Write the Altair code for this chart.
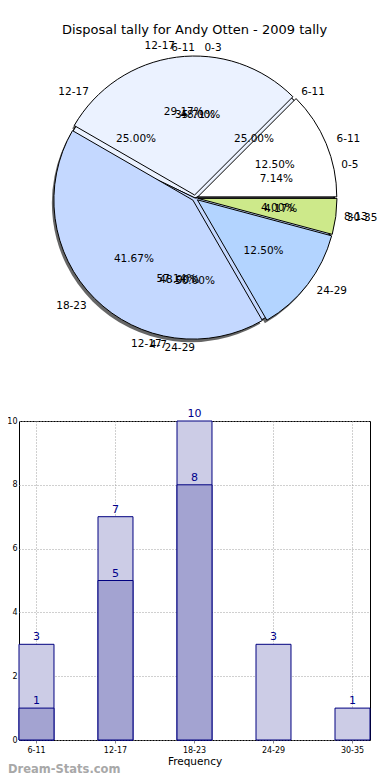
import math
import pandas as pd
import altair as alt

# ---------------- data ----------------
bar_categories = ["6-11", "12-17", "18-23", "24-29", "30-35"]
tally_all = [3, 7, 10, 3, 1]
dark_categories = ["6-11", "12-17", "18-23"]
tally_dark = [1, 5, 8]

pieA_labels = ["6-11", "12-17", "18-23", "24-29", "30-35"]
pieA_values = [3, 7, 10, 3, 1]
pieB_labels = ["0-5", "6-11", "12-17"]
pieB_values = [1, 5, 8]
pieC_labels = ["6-11", "12-17", "24-29"]
pieC_values = [1, 1, 2]
pieD_labels = ["0-3", "4-7", "8-13"]
pieD_values = [12, 12, 1]

title_text = ["Disposal tally for Andy Otten - 2009 tally"]
watermark_text = ["Dream-Stats.com"]

# ---------------- layout ----------------
PW, PH = 351, 319          # bar plot area
CX, CY = 176, -223         # pie centre relative to the bar plot origin
R = 139
FONT = "DejaVu Sans"
palette = ["#ffffff", "#ebf2ff", "#c4d8ff", "#b3d4ff", "#cde98a"]
THETA = alt.Scale(domain=[0, 1], range=[2.5 * math.pi, 0.5 * math.pi])


def pie_base(labels, values, d, dx=0, dy=0):
    df = pd.DataFrame({"label": labels, "value": values, "idx": list(range(len(labels)))})
    return (
        alt.Chart(df)
        .transform_joinaggregate(total="sum(value)")
        .transform_window(cum="sum(value)", sort=[alt.SortField("idx", order="ascending")])
        .transform_calculate(start="(datum.cum - datum.value) / datum.total")
        .transform_calculate(end="datum.cum / datum.total")
        .transform_calculate(mid="(datum.start + datum.end) / 2")
        .transform_calculate(ang="2 * PI * datum.mid")
        .transform_calculate(ex=f"{CX + dx} + {d} * cos(datum.ang)")
        .transform_calculate(ey=f"{CY + dy} - {d} * sin(datum.ang)")
        .transform_calculate(pct="format(datum.value / datum.total, '.2%')")
        .transform_calculate(side="cos(datum.ang) > 1e-6 ? 'L' : 'R'")
    )


def pos():
    return dict(x=alt.X("ex:Q", scale=None), y=alt.Y("ey:Q", scale=None))


def arcs(base, **kw):
    return base.mark_arc(stroke="black", strokeWidth=1, **kw).encode(
        theta=alt.Theta("start:Q", scale=THETA),
        theta2="end:Q",
        radius=alt.value(R),
        color=alt.Color("idx:N", scale=alt.Scale(domain=[0, 1, 2, 3, 4], range=palette), legend=None),
        **pos(),
    )


def texts(base):
    out = []
    for side, align in (("L", "left"), ("R", "right")):
        out.append(
            base.transform_filter(f"datum.side == '{side}'")
            .mark_text(align=align, baseline="middle", fontSize=10.5, font=FONT, color="black")
            .encode(theta=alt.Theta("mid:Q", scale=THETA), radius=alt.value(R * 1.08),
                    text="label:N", **pos())
        )
    out.append(
        base.mark_text(align="center", baseline="middle", fontSize=10.5, font=FONT, color="black")
        .encode(theta=alt.Theta("mid:Q", scale=THETA), radius=alt.value(R * 0.6),
                text="pct:N", **pos())
    )
    return out


bA = pie_base(pieA_labels, pieA_values, 3)
bB = pie_base(pieB_labels, pieB_values, 0)
bC = pie_base(pieC_labels, pieC_values, 0)
bD = pie_base(pieD_labels, pieD_values, 0)
shadow_base = pie_base(pieA_labels, pieA_values, 3, dx=-2, dy=3)

shadow = shadow_base.mark_arc(fill="#333333", opacity=0.75).encode(
    theta=alt.Theta("start:Q", scale=THETA), theta2="end:Q", radius=alt.value(R), **pos()
)

pie = alt.layer(
    shadow, arcs(bD), arcs(bC), arcs(bB), arcs(bA),
    *texts(bD), *texts(bC), *texts(bB), *texts(bA),
)

# ---------------- bar chart ----------------
df_all = pd.DataFrame({"cat": bar_categories, "value": tally_all})
df_dark = pd.DataFrame({"cat": dark_categories, "value": tally_dark})

X = alt.X(
    "cat:N", sort=bar_categories, title="Frequency",
    scale=alt.Scale(domain=bar_categories, paddingInner=0.557, paddingOuter=0),
    axis=alt.Axis(labelAngle=0, labelFontSize=8, labelFont=FONT, labelColor="black",
                  labelPadding=3, tickSize=3, tickColor="#888888", domain=False,
                  grid=True, gridDash=[1, 2], gridColor="#a0a0a0", bandPosition=0.5,
                  titleFontSize=10.5, titleFont=FONT, titleFontWeight="normal",
                  titleColor="black", titlePadding=2),
)
Y = alt.Y(
    "value:Q", title="Disposal Tally",
    scale=alt.Scale(domain=[0, 10]),
    axis=alt.Axis(values=[0, 2, 4, 6, 8, 10], labelFontSize=8, labelFont=FONT,
                  labelColor="black", labelPadding=2, tickSize=0,
                  domain=False, grid=True, gridDash=[1, 2], gridColor="#a0a0a0",
                  titleFontSize=10, titleFont=FONT, titleFontWeight="normal",
                  titleColor="black", titlePadding=8),
)

light = alt.Chart(df_all).mark_bar(fill="#ccccE6", stroke="#000080", strokeWidth=1).encode(x=X, y=Y)
dark = alt.Chart(df_dark).mark_bar(fill="#a3a3d1", stroke="#000080", strokeWidth=1).encode(x=X, y=Y)
light_lbl = alt.Chart(df_all).mark_text(baseline="bottom", dy=-2, fontSize=11, font=FONT,
                                         color="#00008b").encode(x=X, y=Y, text="value:Q")
dark_lbl = alt.Chart(df_dark).mark_text(baseline="bottom", dy=-2, fontSize=11, font=FONT,
                                         color="#00008b").encode(x=X, y=Y, text="value:Q")
bars = alt.layer(light, dark, light_lbl, dark_lbl)

watermark = alt.Chart(pd.DataFrame({"t": watermark_text})).mark_text(
    align="left", baseline="middle", fontSize=11.5, font=FONT, fontWeight="bold", color="#a8a8a8"
).encode(x=alt.value(-11), y=alt.value(349), text="t:N")

title = alt.Chart(pd.DataFrame({"t": title_text})).mark_text(
    align="center", baseline="middle", fontSize=13, font=FONT, color="black"
).encode(x=alt.value(PW / 2), y=alt.value(-391), text="t:N")

chart = (
    alt.layer(pie, bars, watermark, title)
    .resolve_scale(x="independent", y="independent")
    .properties(
        width=PW, height=PH,
        autosize=alt.AutoSizeParams(type="none"),
        padding={"left": 11, "top": 413, "right": 12, "bottom": 40},
    )
    .configure_view(stroke="black", strokeWidth=1)
)

chart.save("out.html", embed_options={"renderer": "svg", "actions": False})
